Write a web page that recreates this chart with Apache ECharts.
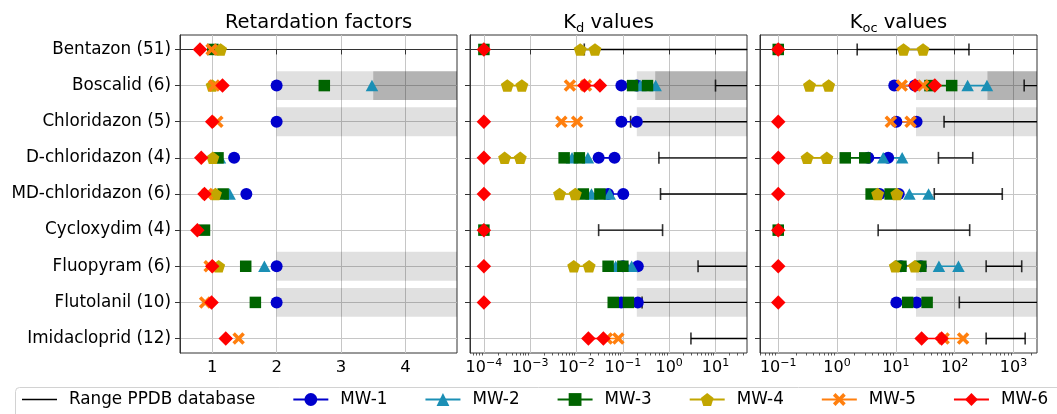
<!DOCTYPE html>
<html><head><meta charset="utf-8">
<script src="https://cdn.jsdelivr.net/npm/echarts@6/dist/echarts.min.js"></script>
<style>html,body{margin:0;padding:0;background:#fff}#c{width:1057px;height:414px}</style>
</head><body><div id="c"></div>
<script>
// ---------- data ----------
const compounds = ['Bentazon (51)', 'Boscalid (6)', 'Chloridazon (5)', 'D-chloridazon (4)', 'MD-chloridazon (6)', 'Cycloxydim (4)', 'Fluopyram (6)', 'Flutolanil (10)', 'Imidacloprid (12)'];
const mwNames = ['MW-1', 'MW-2', 'MW-3', 'MW-4', 'MW-5', 'MW-6'];
const rangeName = 'Range PPDB database';

// Retardation factors (one value per compound, null = none)
const rfMW1 = [null, 2.0, 2.0, 1.34, 1.53, null, 2.0, 2.0, null];
const rfMW2 = [null, 3.48, null, 1.12, 1.27, null, 1.81, null, null];
const rfMW3 = [1.01, 2.74, null, 1.09, 1.17, 0.88, 1.52, 1.67, null];
const rfMW4 = [1.13, 1.0, null, 1.01, 1.05, null, 1.1, null, null];
const rfMW5 = [0.99, 1.03, 1.08, null, 0.92, null, 0.96, 0.89, 1.41];
const rfMW6 = [0.81, 1.16, 1.0, 0.83, 0.88, 0.77, 1.0, 0.99, 1.21];

// Kd values (single value or [low, high])
const kdMW1 = [null, [0.093, 0.2], [0.093, 0.2], [0.030, 0.066], [0.048, 0.102], null, [0.1, 0.21], [0.092, 0.21], null];
const kdMW2 = [null, [0.24, 0.51], null, [0.008, 0.0176], [0.021, 0.052], null, [0.07, 0.155], null, null];
const kdMW3 = [1e-4, [0.162, 0.34], null, [0.0054, 0.0115], [0.014, 0.032], 1e-4, [0.048, 0.1], [0.062, 0.132], null];
const kdMW4 = [[0.012, 0.025], [3.2e-4, 6.6e-4], null, [2.8e-4, 6.1e-4], [0.0043, 0.0094], null, [0.0087, 0.0187], null, null];
const kdMW5 = [null, [0.0072, 0.016], [0.0047, 0.0103], null, null, null, null, null, [0.045, 0.08]];
const kdMW6 = [1e-4, [0.0148, 0.032], 1e-4, 1e-4, 1e-4, 1e-4, 1e-4, 1e-4, [0.018, 0.038]];

// Koc values
const kocMW1 = [null, [9.4, 21], [10.2, 22.5], [3.4, 7.4], [5.3, 11.2], null, [12.2, 26.6], [10.2, 22.5], null];
const kocMW2 = [null, [166, 354], null, [6.1, 12.8], [17, 36], null, [54, 116], null, null];
const kocMW3 = [0.1, [38, 89], null, [1.38, 2.96], [3.8, 8.0], 0.1, [12.2, 26.6], [15.9, 34], null];
const kocMW4 = [[13.5, 29], [0.34, 0.72], null, [0.31, 0.67], [4.9, 10.4], null, [9.8, 21], null, null];
const kocMW5 = [null, [12.6, 29], [8.2, 17.8], null, null, null, null, null, [65, 139]];
const kocMW6 = [0.1, [21.2, 46], 0.1, 0.1, 0.1, 0.1, 0.1, 0.1, [27.4, 60]];

// PPDB ranges [low, high]; high = null -> open towards the right edge
const kdRange = [[0.0147, null], [10, null], [0.147, null], [0.6, null], [0.65, null], [0.03, 0.72], [4.2, null], [0.26, null], [2.95, null]];
const kocRange = [[2.2, 175], [1520, null], [66, null], [53, 203], [45, 645], [5.0, 180], [343, 1380], [120, null], [343, 1580]];

// shaded bands [row, start]
const rfLightBands = [[1, 2], [2, 2], [6, 2], [7, 2]];
const rfDarkBands = [[1, 3.5]];
const kdLightBands = [[1, 0.2], [2, 0.2], [6, 0.2], [7, 0.2]];
const kdDarkBands = [[1, 0.5]];
const kocLightBands = [[1, 22], [2, 22], [6, 22], [7, 22]];
const kocDarkBands = [[1, 361]];

// tick labels
const rfTicks = [1, 2, 3, 4];
const kdTicks = [1e-4, 1e-3, 1e-2, 1e-1, 1, 10];
const kocTicks = [1e-1, 1, 10, 100, 1000];

// ---------- layout / style ----------
const FONT = 'DejaVu Sans';
const rowTicks = compounds.map((_, i) => i);
const RF_MIN = 0.5, RF_MAX = 4.8;
const KD_MIN = Math.pow(10, -4.3), KD_MAX = Math.pow(10, 1.68);
const KOC_MIN = Math.pow(10, -1.31), KOC_MAX = Math.pow(10, 3.4);
const mwColors = ['#0000cc', '#1b8fb5', '#006400', '#c2a600', '#ff7f0e', '#ff0000'];
const PENT = 'path://M0,-1L0.951,-0.309L0.588,0.809L-0.588,0.809L-0.951,-0.309Z';
const XSYM = 'path://M2,0L5,3L8,0L10,2L7,5L10,8L8,10L5,7L2,10L0,8L3,5L0,2Z';
const mwSymbols = ['circle', 'triangle', 'rect', PENT, XSYM, 'diamond'];
const mwSizes = [12, [12.5, 11.5], 11.5, [13, 12.5], 12.5, [14.5, 14.5]];

function minorValues(lo, hi) {
  const out = [];
  for (let e = -6; e <= 4; e++) for (let m = 2; m <= 9; m++) {
    const v = m * Math.pow(10, e);
    if (v > lo && v < hi) out.push(v);
  }
  return out;
}

const grids = [
  {left: 180, top: 35, width: 277, height: 318},
  {left: 470, top: 35, width: 277, height: 318},
  {left: 760, top: 35, width: 277, height: 318}
].map(g => Object.assign(g, {show: true, borderColor: '#333', borderWidth: 1, backgroundColor: 'transparent', containLabel: false, outerBoundsMode: 'none'}));

const tickStyle = {show: true, length: 5, inside: false, lineStyle: {color: '#333', width: 1}};
const splitStyle = {show: true, lineStyle: {color: '#c6c6c6', width: 1}};
const logFmt = v => {
  const e = Math.round(Math.log10(v));
  return '{b|10}{s|' + (e < 0 ? '\u2212' + (-e) : e) + '}';
};
const logRich = {
  b: {fontSize: 16, fontFamily: FONT, color: '#000', lineHeight: 20, verticalAlign: 'middle'},
  s: {fontSize: 11, fontFamily: FONT, color: '#000', lineHeight: 12, verticalAlign: 'top'}
};

const xAxes = [
  {type: 'value', gridIndex: 0, min: RF_MIN, max: RF_MAX,
   axisLine: {show: true, lineStyle: {color: '#333'}},
   axisTick: Object.assign({customValues: rfTicks}, tickStyle),
   axisLabel: {customValues: rfTicks, fontSize: 16.5, fontFamily: FONT, color: '#000', margin: 6},
   splitLine: splitStyle},
  {type: 'log', logBase: 10, gridIndex: 1, min: KD_MIN, max: KD_MAX,
   axisLine: {show: true, lineStyle: {color: '#333'}},
   axisTick: Object.assign({customValues: kdTicks}, tickStyle),
   axisLabel: {customValues: kdTicks, formatter: logFmt, rich: logRich, margin: 5},
   splitLine: splitStyle},
  {type: 'log', logBase: 10, gridIndex: 2, min: KOC_MIN, max: KOC_MAX,
   axisLine: {show: true, lineStyle: {color: '#333'}},
   axisTick: Object.assign({customValues: kocTicks}, tickStyle),
   axisLabel: {customValues: kocTicks, formatter: logFmt, rich: logRich, margin: 5},
   splitLine: splitStyle},
  {type: 'log', logBase: 10, gridIndex: 1, min: KD_MIN, max: KD_MAX, position: 'bottom',
   axisLine: {show: false}, axisLabel: {show: false}, splitLine: {show: false},
   axisTick: {show: true, length: 2.5, customValues: minorValues(KD_MIN, KD_MAX), lineStyle: {color: '#333', width: 0.8}}},
  {type: 'log', logBase: 10, gridIndex: 2, min: KOC_MIN, max: KOC_MAX, position: 'bottom',
   axisLine: {show: false}, axisLabel: {show: false}, splitLine: {show: false},
   axisTick: {show: true, length: 2.5, customValues: minorValues(KOC_MIN, KOC_MAX), lineStyle: {color: '#333', width: 0.8}}}
];

const yAxes = [0, 1, 2].map(i => ({
  type: 'value', gridIndex: i, min: -0.4, max: 8.4, inverse: true,
  axisLine: {show: true, lineStyle: {color: '#333'}},
  axisTick: Object.assign({customValues: rowTicks}, tickStyle),
  axisLabel: {show: i === 0, customValues: rowTicks, formatter: v => compounds[v], fontSize: 16.8, fontFamily: FONT, color: '#000', margin: 9},
  splitLine: splitStyle
}));

const series = [];

// shaded bands
function bandRender(params, api) {
  const row = api.value(0), start = api.value(1);
  const cs = params.coordSys;
  const pA = api.coord([start, row - 0.4]);
  const pB = api.coord([start, row + 0.4]);
  const x0 = Math.max(pA[0], cs.x);
  return {type: 'rect',
    shape: {x: x0, y: Math.min(pA[1], pB[1]), width: cs.x + cs.width - x0, height: Math.abs(pB[1] - pA[1])},
    style: {fill: api.visual('color')}};
}
[[rfLightBands, rfDarkBands], [kdLightBands, kdDarkBands], [kocLightBands, kocDarkBands]].forEach((b, i) => {
  series.push({type: 'custom', name: 'bandL', xAxisIndex: i, yAxisIndex: i, data: b[0], encode: {x: 1, y: 0},
    renderItem: bandRender, itemStyle: {color: 'rgba(0,0,0,0.12)'}, silent: true, animation: false, z: 1, clip: true});
  series.push({type: 'custom', name: 'bandD', xAxisIndex: i, yAxisIndex: i, data: b[1], encode: {x: 1, y: 0},
    renderItem: bandRender, itemStyle: {color: 'rgba(0,0,0,0.2)'}, silent: true, animation: false, z: 1, clip: true});
});

// PPDB ranges
function addRange(ranges, ai, axMax) {
  ranges.forEach((r, row) => {
    if (!r) return;
    const hi = r[1] == null ? axMax : r[1];
    series.push({type: 'line', name: rangeName, xAxisIndex: ai, yAxisIndex: ai, data: [[r[0], row], [hi, row]],
      symbol: 'none', lineStyle: {color: '#000', width: 1.4}, itemStyle: {color: '#000'}, silent: true, animation: false, z: 2});
    const caps = [[r[0], row]];
    if (r[1] != null) caps.push([r[1], row]);
    series.push({type: 'scatter', name: 'cap', xAxisIndex: ai, yAxisIndex: ai, data: caps, symbol: 'rect', symbolSize: [1.6, 12],
      itemStyle: {color: '#000'}, silent: true, animation: false, z: 2});
  });
}
addRange(kdRange, 1, KD_MAX);
addRange(kocRange, 2, KOC_MAX);

// monitoring wells
const rfAll = [rfMW1, rfMW2, rfMW3, rfMW4, rfMW5, rfMW6];
const kdAll = [kdMW1, kdMW2, kdMW3, kdMW4, kdMW5, kdMW6];
const kocAll = [kocMW1, kocMW2, kocMW3, kocMW4, kocMW5, kocMW6];
mwNames.forEach((name, k) => {
  [[rfAll, 0], [kdAll, 1], [kocAll, 2]].forEach(([all, ai]) => {
    all[k].forEach((v, row) => {
      if (v == null) return;
      const vals = Array.isArray(v) ? v : [v];
      series.push({type: 'line', name: name, xAxisIndex: ai, yAxisIndex: ai,
        data: vals.map(x => [x, row]), symbol: mwSymbols[k], symbolSize: mwSizes[k],
        showSymbol: true, showAllSymbol: true,
        itemStyle: {color: mwColors[k], borderWidth: 0},
        lineStyle: {color: mwColors[k], width: 1.6},
        silent: true, animation: false, z: 3});
    });
  });
});

const option = {
  backgroundColor: '#fff',
  animation: false,
  grid: grids,
  xAxis: xAxes,
  yAxis: yAxes,
  legend: {
    data: [{name: rangeName, icon: 'path://M0,0H35V1.4H0Z'}].concat(mwNames), left: 22, top: 391, padding: 0, itemGap: 37,
    itemWidth: 35, itemHeight: 16, selectedMode: false,
    textStyle: {fontSize: 16.8, fontFamily: FONT, color: '#000', padding: [0, 0, 0, 7]}
  },
  graphic: [
    {type: 'rect', shape: {x: 15.5, y: 387.5, width: 1100, height: 40, r: 4}, style: {fill: 'none', stroke: '#d2d2d2', lineWidth: 1}, silent: true, z: -1},
    {type: 'text', x: 318.5, y: 22.5, silent: true,
     style: {text: 'Retardation factors', fontSize: 19.5, fontFamily: FONT, fill: '#000', align: 'center', verticalAlign: 'middle'}},
    {type: 'text', x: 608.5, y: 22.5, silent: true,
     style: {text: '{m|K}{s|d}{m| values}', align: 'center', verticalAlign: 'middle',
       rich: {m: {fontSize: 19.5, fontFamily: FONT, fill: '#000', lineHeight: 26},
              s: {fontSize: 13, fontFamily: FONT, fill: '#000', lineHeight: 15, verticalAlign: 'bottom'}}}},
    {type: 'text', x: 898.5, y: 22.5, silent: true,
     style: {text: '{m|K}{s|oc}{m| values}', align: 'center', verticalAlign: 'middle',
       rich: {m: {fontSize: 19.5, fontFamily: FONT, fill: '#000', lineHeight: 26},
              s: {fontSize: 13, fontFamily: FONT, fill: '#000', lineHeight: 15, verticalAlign: 'bottom'}}}}
  ],
  series: series
};
const chart = echarts.init(document.getElementById('c'), null, {renderer: 'canvas'});
chart.setOption(option);
</script>
</body></html>
